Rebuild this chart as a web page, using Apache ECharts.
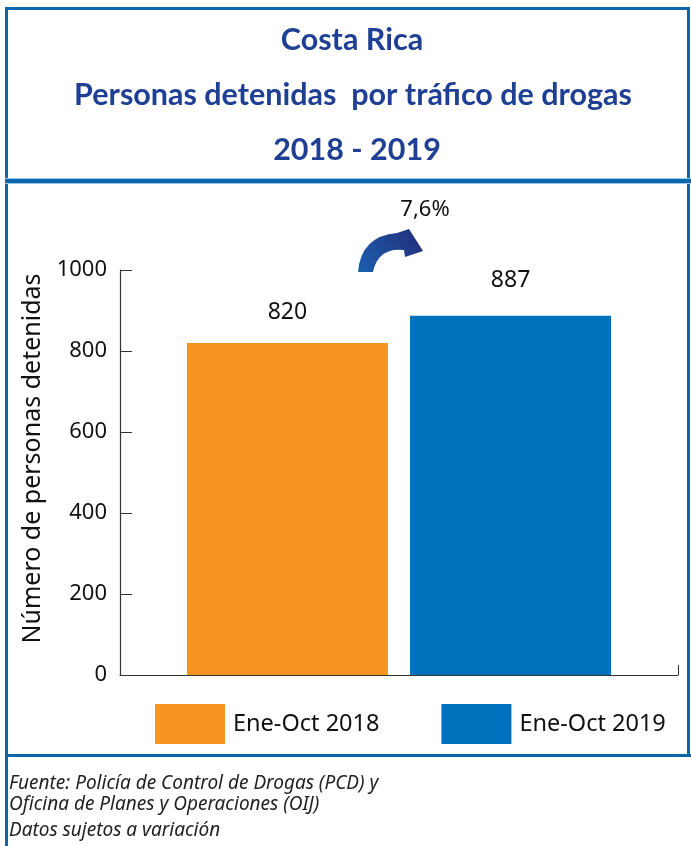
<!DOCTYPE html>
<html><head><meta charset="utf-8">
<script src="https://cdn.jsdelivr.net/npm/echarts@6/dist/echarts.min.js"></script>
<style>html,body{margin:0;padding:0;background:#fff}#c{width:691px;height:846px}</style>
</head><body><div id="c"></div>
<script>
const categories = ['Personas detenidas'];
const seriesNames = ['Ene-Oct 2018', 'Ene-Oct 2019'];
const values2018 = [820];
const values2019 = [887];
const changeLabel = '7,6%';
const titleLines = ['Costa Rica', 'Personas detenidas  por tráfico de drogas', '2018 - 2019'];
const yAxisName = 'Número de personas detenidas';
const footLines = ['Fuente: Policía de Control de Drogas (PCD) y', 'Oficina de Planes y Operaciones (OIJ)', 'Datos sujetos a variación'];

const chart = echarts.init(document.getElementById('c'), null, {renderer: 'canvas'});
const frame = '#0a66ad';
const titleColor = '#1f3f95';
const titleFont = 'Lato, "Open Sans", sans-serif';
const bodyFont = '"Noto Sans", "Open Sans", sans-serif';

try {
  echarts.graphic.registerShape('curvedArrow', echarts.graphic.extendPath(
    'M 358 272 Q 361 236 397 233 L 409 229 L 423 251 L 405 257 L 404 250 Q 378 247 373 272 Z', {}));
} catch (e) { console.log(e); }

const graphics = [
  {type: 'rect', shape: {x: 7, y: 7, width: 682, height: 3}, style: {fill: frame}, silent: true},
  {type: 'rect', shape: {x: 5, y: 7, width: 3, height: 839}, style: {fill: frame}, silent: true},
  {type: 'rect', shape: {x: 687, y: 7, width: 3, height: 750}, style: {fill: frame}, silent: true},
  {type: 'rect', shape: {x: 5, y: 178, width: 686, height: 6}, style: {fill: '#9cc6e6'}, silent: true},
  {type: 'rect', shape: {x: 5, y: 179, width: 686, height: 4}, style: {fill: frame}, silent: true},
  {type: 'rect', shape: {x: 5, y: 754, width: 686, height: 3}, style: {fill: frame}, silent: true},
  {type: 'text', x: 352, y: 40, style: {text: titleLines[0], fill: titleColor, font: 'bold 30.5px ' + titleFont, textAlign: 'center', textVerticalAlign: 'middle'}},
  {type: 'text', x: 353, y: 95, style: {text: titleLines[1], fill: titleColor, font: 'bold 30.5px ' + titleFont, textAlign: 'center', textVerticalAlign: 'middle'}},
  {type: 'text', x: 357, y: 150, style: {text: titleLines[2], fill: titleColor, font: 'bold 30.5px ' + titleFont, textAlign: 'center', textVerticalAlign: 'middle'}},
  {type: 'text', x: 425, y: 210, style: {text: changeLabel, fill: '#111', font: '22px ' + bodyFont, textAlign: 'center', textVerticalAlign: 'middle'}},
  {type: 'curvedArrow', silent: true, shape: {},
   style: {fill: new echarts.graphic.LinearGradient(0, 1, 1, 0, [{offset: 0, color: '#1b5fae'}, {offset: 1, color: '#232c78'}])}},
  {type: 'text', x: 9, y: 784, style: {text: footLines[0], fill: '#222', font: 'italic 19px ' + bodyFont, textVerticalAlign: 'middle'}},
  {type: 'text', x: 9, y: 805, style: {text: footLines[1], fill: '#222', font: 'italic 19px ' + bodyFont, textVerticalAlign: 'middle'}},
  {type: 'text', x: 9, y: 831, style: {text: footLines[2], fill: '#222', font: 'italic 19px ' + bodyFont, textVerticalAlign: 'middle'}}
];

chart.setOption({
  animation: false,
  backgroundColor: '#fff',
  textStyle: {fontFamily: bodyFont},
  grid: {left: 120, right: 13, top: 270, bottom: 171, containLabel: false},
  legend: {
    left: 155, top: 704, itemWidth: 70, itemHeight: 40, itemGap: 62, padding: 0,
    icon: 'rect',
    textStyle: {fontSize: 23.5, color: '#111', fontFamily: bodyFont, padding: [4, 0, 0, 3]},
    data: seriesNames
  },
  xAxis: {
    type: 'category', data: categories,
    axisLine: {lineStyle: {color: '#333', width: 1.2}},
    axisTick: {show: true, inside: true, length: 10, lineStyle: {color: '#333'}},
    axisLabel: {show: false}
  },
  yAxis: {
    type: 'value', min: 0, max: 1000, interval: 200,
    name: yAxisName, nameLocation: 'middle', nameGap: 74, nameRotate: 90,
    nameTextStyle: {fontSize: 25, color: '#111', fontFamily: bodyFont, padding: [0, 0, 0, 28]},
    axisLine: {show: true, lineStyle: {color: '#333', width: 1.2}},
    axisTick: {show: true, inside: true, length: 12, lineStyle: {color: '#333'}},
    axisLabel: {fontSize: 22, color: '#111', margin: 13, fontFamily: bodyFont, formatter: v => String(v)},
    splitLine: {show: false}
  },
  series: [
    {name: seriesNames[0], type: 'bar', data: values2018, barWidth: 201, barGap: '11%',
     itemStyle: {color: '#f7941f'},
     label: {show: true, position: 'top', distance: 19, fontSize: 23, color: '#111'}},
    {name: seriesNames[1], type: 'bar', data: values2019, barWidth: 201, barGap: '11%',
     itemStyle: {color: '#0071bc'},
     label: {show: true, position: 'top', distance: 24, fontSize: 23, color: '#111'}}
  ],
  graphic: graphics
});
</script></body></html>
